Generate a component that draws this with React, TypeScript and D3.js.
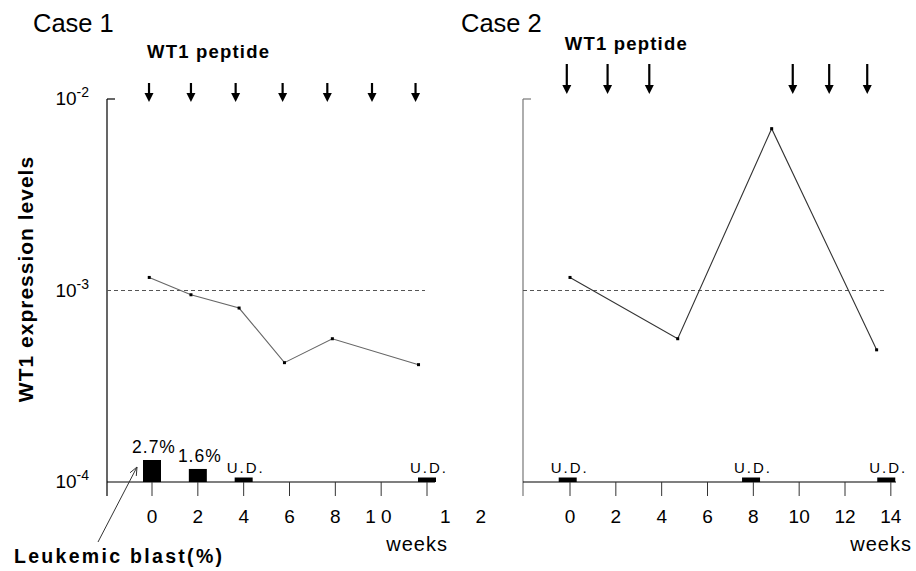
import * as d3 from 'd3';
import { useEffect } from 'react';

const FONT = '"Liberation Sans", Arial, Helvetica, sans-serif';

// WT1 expression, log axis
const Y_TICKS = [1e-2, 1e-3, 1e-4];
const Y_TICK_EXP = ['-2', '-3', '-4'];
const THRESHOLD = 1e-3;

// Case 1
const C1_WEEKS = [-0.12, 1.7, 3.8, 5.78, 7.87, 11.63];
const C1_WT1 = [1.17e-3, 9.5e-4, 8.1e-4, 4.2e-4, 5.6e-4, 4.1e-4];
const C1_ARROWS = [-0.13, 1.7, 3.65, 5.7, 7.65, 9.6, 11.5];
const C1_BLAST_WEEKS = [0, 2, 4, 12];
const C1_BLAST: (number | null)[] = [2.7, 1.6, null, null];
const C1_BLAST_LABELS = ['2.7%', '1.6%', 'U.D.', 'U.D.'];
const C1_XTICKS = [0, 2, 4, 6, 8, 10, 12];
const C1_XLABELS = ['0', '2', '4', '6', '8', '1 0', '12'];

// Case 2
const C2_WEEKS = [0, 4.7, 8.8, 13.38];
const C2_WT1 = [1.17e-3, 5.6e-4, 7.0e-3, 4.9e-4];
const C2_ARROWS = [-0.14, 1.64, 3.46, 9.72, 11.31, 12.97];
const C2_BLAST_WEEKS = [-0.1, 7.9, 13.8];
const C2_BLAST: (number | null)[] = [null, null, null];
const C2_BLAST_LABELS = ['U.D.', 'U.D.', 'U.D.'];
const C2_XTICKS = [0, 2, 4, 6, 8, 10, 12, 14];
const C2_XLABELS = ['0', '2', '4', '6', '8', '10', '12', '14'];

const AXIS_TOP = 99;
const AXIS_BASE = 482;
const TICK_LEN = 14;

const y = d3.scaleLog().domain([1e-4, 1e-2]).range([AXIS_BASE, AXIS_TOP]);
const blastH = d3.scaleLinear().domain([0, 2.7]).range([0, 22]);
const UD_H = 4.5;

type PanelProps = {
  title: string;
  left: number;
  right: number;
  x: d3.ScaleLinear<number, number>;
  weeks: number[];
  wt1: number[];
  arrows: number[];
  arrowTop: number;
  arrowTip: number;
  peptideY: number;
  blastWeeks: number[];
  blast: (number | null)[];
  blastLabels: string[];
  xTicks: number[];
  xLabels: string[];
  dashEnd: number;
  axisColor: string;
  lineColor: string;
  yLabels?: boolean;
  weeksEnd: number;
  case1?: boolean;
};

function Panel(p: PanelProps) {
  const pts = p.weeks.map((w, i) => [p.x(w), y(p.wt1[i])] as [number, number]);
  const line = d3.line();
  const ty = y(THRESHOLD);
  const barW = 18;

  return (
    <g>
      <text x={p.left - 74 + (p.case1 ? 0 : 12)} y={32} fontSize={25.5} fontFamily={FONT}>{p.title}</text>
      <text x={p.x(p.arrows[0]) - 2} y={p.peptideY} fontSize={18.5} fontWeight="bold" letterSpacing={1.2} fontFamily={FONT}>WT1 peptide</text>

      {/* arrows */}
      {p.arrows.map((w, i) => {
        const ax = p.x(w);
        return (
          <g key={i}>
            <line x1={ax} x2={ax} y1={p.arrowTop} y2={p.arrowTip - 6} stroke="#000" strokeWidth={2.2} />
            <path d={`M${ax - 4.5},${p.arrowTip - 9}L${ax + 4.5},${p.arrowTip - 9}L${ax},${p.arrowTip}Z`} fill="#000" />
          </g>
        );
      })}

      {/* axes */}
      <line x1={p.left} x2={p.left} y1={AXIS_TOP} y2={AXIS_BASE + TICK_LEN} stroke={p.axisColor} strokeWidth={1.2} />
      <line x1={p.left} x2={p.left + 8} y1={AXIS_TOP} y2={AXIS_TOP} stroke={p.axisColor} strokeWidth={1.2} />
      <line x1={p.left} x2={p.right} y1={AXIS_BASE} y2={AXIS_BASE} stroke="#000" strokeWidth={1.2} />
      {p.xTicks.map((t) => (
        <line key={t} x1={p.x(t)} x2={p.x(t)} y1={AXIS_BASE} y2={AXIS_BASE + TICK_LEN} stroke="#333" strokeWidth={1} />
      ))}
      {p.xTicks.map((t, i) => {
        const lab = p.xLabels[i];
        if (p.case1 && t === 10) {
          return <text key={t} x={p.x(t) - 16} y={523} fontSize={19} fontFamily={FONT}>{lab}</text>;
        }
        if (p.case1 && t === 12) {
          return <text key={t} x={p.x(t) + 13} y={523} fontSize={19} letterSpacing={25} fontFamily={FONT}>{lab}</text>;
        }
        return <text key={t} x={p.x(t)} y={523} fontSize={19} textAnchor="middle" fontFamily={FONT}>{lab}</text>;
      })}
      <text x={p.weeksEnd} y={551} fontSize={20} letterSpacing={1} textAnchor="end" fontFamily={FONT}>weeks</text>

      {p.yLabels && Y_TICKS.map((t, i) => (
        <text key={t} x={p.left - 18} y={y(t) + 6} textAnchor="end" fontFamily={FONT} fontSize={19}>
          <tspan>10</tspan>
          <tspan dy={-8} fontSize={14}>{Y_TICK_EXP[i]}</tspan>
        </text>
      ))}

      {/* threshold */}
      <line x1={p.left} x2={p.dashEnd} y1={ty} y2={ty} stroke="#555" strokeWidth={1.2} strokeDasharray="4,3" />

      {/* WT1 series */}
      <path d={line(pts) ?? ''} fill="none" stroke={p.lineColor} strokeWidth={1.1} />
      {pts.map(([cx, cy], i) => (
        <rect key={i} x={cx - 1.5} y={cy - 1.5} width={3} height={3} fill="#000" />
      ))}

      {/* leukemic blast */}
      {p.blastWeeks.map((w, i) => {
        const v = p.blast[i];
        const h = v == null ? UD_H : blastH(v);
        const bx = p.x(w);
        return (
          <g key={i}>
            <rect x={bx - barW / 2} y={AXIS_BASE - h} width={barW} height={h} fill="#000" />
            <text
              x={bx + 2}
              y={AXIS_BASE - h - (v == null ? 5 : 7)}
              textAnchor="middle"
              fontSize={v == null ? 15 : 17.5}
              letterSpacing={v == null ? 2 : 1}
              fontFamily={FONT}
            >
              {p.blastLabels[i]}
            </text>
          </g>
        );
      })}
    </g>
  );
}

export default function App() {
  useEffect(() => {
    document.body.style.margin = '0';
  }, []);

  const x1 = d3.scaleLinear().domain([0, 12]).range([152, 427]);
  const x2 = d3.scaleLinear().domain([0, 12]).range([570, 845]);

  // annotation arrow pointing at first blast bar
  const tipX = x1(C1_BLAST_WEEKS[0]) - 15;
  const tipY = AXIS_BASE - blastH(C1_BLAST[0] as number) + 7;
  const tailX = tipX - 39;
  const tailY = tipY + 75;
  const ang = Math.atan2(tipY - tailY, tipX - tailX);
  const hl = 9;
  const h1 = [tipX - hl * Math.cos(ang - 0.4), tipY - hl * Math.sin(ang - 0.4)];
  const h2 = [tipX - hl * Math.cos(ang + 0.4), tipY - hl * Math.sin(ang + 0.4)];

  return (
    <svg width={916} height={571} style={{ position: 'absolute', left: 0, top: 0, background: '#fff' }}>
      <rect width={916} height={571} fill="#fff" />
      <Panel
        title="Case 1" left={107} right={435} x={x1}
        weeks={C1_WEEKS} wt1={C1_WT1} arrows={C1_ARROWS} arrowTop={83} arrowTip={102} peptideY={58}
        blastWeeks={C1_BLAST_WEEKS} blast={C1_BLAST} blastLabels={C1_BLAST_LABELS}
        xTicks={C1_XTICKS} xLabels={C1_XLABELS} dashEnd={425} axisColor="#000" lineColor="#666"
        yLabels weeksEnd={448} case1
      />
      <Panel
        title="Case 2" left={523} right={896} x={x2}
        weeks={C2_WEEKS} wt1={C2_WT1} arrows={C2_ARROWS} arrowTop={64} arrowTip={94} peptideY={50}
        blastWeeks={C2_BLAST_WEEKS} blast={C2_BLAST} blastLabels={C2_BLAST_LABELS}
        xTicks={C2_XTICKS} xLabels={C2_XLABELS} dashEnd={884} axisColor="#777" lineColor="#333"
        weeksEnd={912}
      />

      <text
        transform="translate(33,279) rotate(-90)"
        textAnchor="middle" fontSize={21} fontWeight="bold" letterSpacing={1} fontFamily={FONT}
      >
        WT1 expression levels
      </text>

      <line x1={tailX} y1={tailY} x2={tipX} y2={tipY} stroke="#333" strokeWidth={1} />
      <polyline points={`${h1[0]},${h1[1]} ${tipX},${tipY} ${h2[0]},${h2[1]}`} fill="none" stroke="#333" strokeWidth={1} />
      <text x={14} y={563} fontSize={19.5} fontWeight="bold" letterSpacing={2.3} fontFamily={FONT}>Leukemic blast(%)</text>
    </svg>
  );
}
